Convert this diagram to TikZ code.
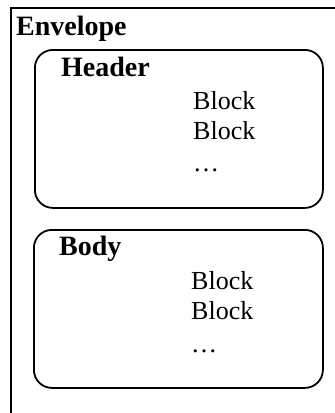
\documentclass[tikz,border=0pt]{standalone}
\usepackage{fontspec}
\setmainfont{Liberation Serif}
\begin{document}
\begin{tikzpicture}[x=1pt,y=-1pt,
  frame/.style={line width=1.8pt},
  part/.style={draw, line width=1.8pt, rounded corners=18pt, anchor=north west, inner sep=0pt},
  title/.style={font=\fontsize{28}{32}\selectfont\bfseries, anchor=base west, inner sep=0pt},
  item/.style={font=\fontsize{26}{30}\selectfont, anchor=base west, inner sep=0pt}]
\useasboundingbox (0,0) rectangle (335,413);
\coordinate (eb) at (11,420);
\coordinate (etl) at (11,8);
\coordinate (er) at (340,8);
\draw[frame] (eb) -- (etl) -- (er);
\node[title] (env) at (16,35) {Envelope};
\node[part, minimum width=288pt, minimum height=158pt] (header) at (34,49) {};
\node[title] (htitle) at (61,76) {Header};
\node[item] (hb1) at (193,109) {Block};
\node[item] (hb2) at (193,139) {Block};
\node[item] (hb3) at (193,171) {\ldots};
\node[part, minimum width=289pt, minimum height=158pt] (body) at (33,229) {};
\node[title] (btitle) at (59,255) {Body};
\node[item] (bb1) at (191,289) {Block};
\node[item] (bb2) at (191,319) {Block};
\node[item] (bb3) at (191,352) {\ldots};
\end{tikzpicture}
\end{document}
